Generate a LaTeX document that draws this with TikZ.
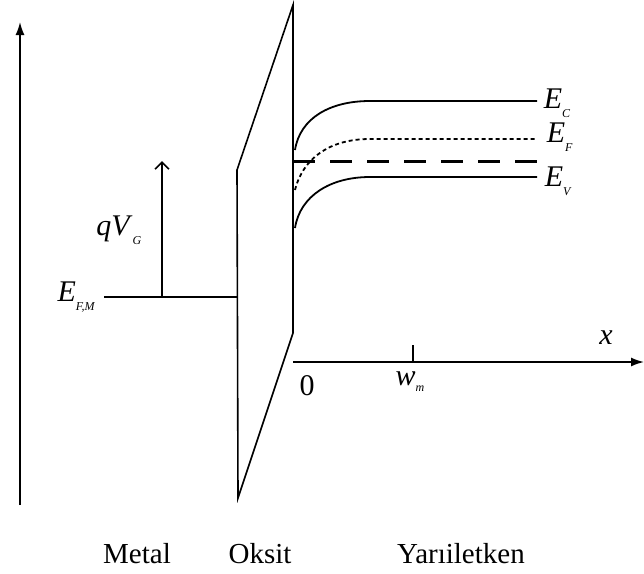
\documentclass[tikz,border=0pt]{standalone}
\usepackage{fontspec}
\setmainfont{Liberation Serif}
\usetikzlibrary{arrows.meta}
\newcommand{\mylbl}[3][0.3em]{\textit{#2}\raisebox{-#1}{\fontsize{12}{12}\selectfont\textit{#3}}}
\begin{document}
\begin{tikzpicture}[x=1pt,y=-1pt,line width=1.6pt,
  lab/.style={inner sep=0pt,font=\fontsize{30}{30}\selectfont},
  word/.style={inner sep=0pt,anchor=base,font=\fontsize{29}{29}\selectfont},
  axisarrow/.style={-{Latex[length=13pt,width=9pt]}},
  band/.style={line width=1.8pt}]
\useasboundingbox (0,0) rectangle (644,573);
% coordinates
\coordinate (ax0) at (20,505);
\coordinate (ax1) at (20,22);
\coordinate (oxT) at (293,5);
\coordinate (oxL) at (237,170);
\coordinate (oxB) at (238,498);
\coordinate (oxR) at (293,333);
\coordinate (fm0) at (104,297);
\coordinate (fm1) at (237,297);
\coordinate (qv0) at (162,297);
\coordinate (qv1) at (162,161);
\coordinate (x0) at (293,362);
\coordinate (x1) at (644,362);
\coordinate (tk0) at (413,362);
\coordinate (tk1) at (413,345);
% axes
\draw[axisarrow] (ax0) -- (ax1);
\draw[axisarrow] (x0) -- (x1);
\draw (tk0) -- (tk1);
% oxide
\draw[line join=miter] (oxL) -- (oxT) -- (oxR) -- (oxB) -- cycle;
% metal Fermi level and gate voltage
\draw (fm0) -- (fm1);
\draw[-{Straight Barb[length=7pt,width=14pt]}] (qv0) -- (qv1);
% bands
\coordinate (ec0) at (295,150); \coordinate (ec1) at (370,101); \coordinate (ec2) at (537,101);
\coordinate (ev0) at (295,228); \coordinate (ev1) at (370,177); \coordinate (ev2) at (537,177);
\coordinate (ef0) at (295,190); \coordinate (ef1) at (370,139); \coordinate (ef2) at (537,139);
\coordinate (ei0) at (293,161); \coordinate (ei1) at (537,161);
\draw[band] (ec0) .. controls (300,118) and (330,101) .. (ec1) -- (ec2);
\draw[band] (ev0) .. controls (300,196) and (330,177) .. (ev1) -- (ev2);
\draw[band,dash pattern=on 4pt off 3pt] (ef0) .. controls (303,158) and (330,139) .. (ef1) -- (ef2);
\draw[line width=3pt,dash pattern=on 22pt off 15pt] (ei0) -- (ei1);
% labels
\node[lab,anchor=west] (lEC) at (543,103) {\mylbl{E}{C}};
\node[lab,anchor=west] (lEF) at (546,137) {\mylbl{E}{F}};
\node[lab,anchor=west] (lEV) at (544,181) {\mylbl{E}{V}};
\node[lab,anchor=east] (lEFM) at (96,297) {\mylbl{E}{F,M}};
\node[lab,anchor=east] (lqv) at (142,230) {\mylbl{qV}{G}};
\node[lab] (lx) at (606,338) {\textit{x}};
\node[lab] (l0) at (307,386) {0};
\node[lab] (lw) at (410,382) {\mylbl[0.2em]{w}{m}};
\node[word] (wm) at (137,563) {Metal};
\node[word] (wo) at (260,563) {Oksit};
\node[word] (wy) at (461,563) {Yarıiletken};
\end{tikzpicture}
\end{document}
